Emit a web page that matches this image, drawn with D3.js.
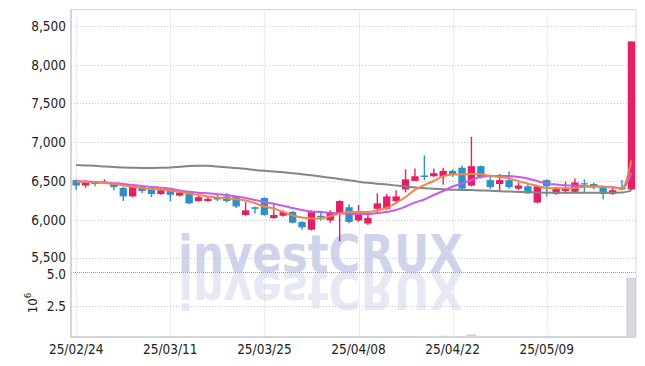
<!DOCTYPE html>
<html><head><meta charset="utf-8">
<script src="https://cdn.jsdelivr.net/npm/d3@7"></script>
<style>
html,body{margin:0;padding:0;background:#fff;}
text{font-family:"Liberation Sans Narrow","DejaVu Sans Condensed","Roboto",sans-serif;}
</style></head>
<body><svg id="c" width="645" height="366"></svg>
<script>
// ---- data ----
const dates = ["25/02/24","25/02/25","25/02/26","25/02/27","25/02/28","25/03/04","25/03/05","25/03/06","25/03/07","25/03/10",
"25/03/11","25/03/12","25/03/13","25/03/14","25/03/17","25/03/18","25/03/19","25/03/20","25/03/21","25/03/24",
"25/03/25","25/03/26","25/03/27","25/03/28","25/03/31","25/04/01","25/04/02","25/04/03","25/04/04","25/04/07",
"25/04/08","25/04/09","25/04/10","25/04/11","25/04/14","25/04/15","25/04/16","25/04/17","25/04/18","25/04/21",
"25/04/22","25/04/23","25/04/24","25/04/25","25/04/28","25/04/29","25/04/30","25/05/02","25/05/07","25/05/08",
"25/05/09","25/05/12","25/05/13","25/05/14","25/05/15","25/05/16","25/05/19","25/05/20","25/05/21","25/05/22"];
const openP  = [6510,6440,6480,6470,6470,6410,6300,6420,6400,6330,6390,6310,6350,6240,6240,6290,6300,6290,6060,6160,
6280,6020,6050,6100,5970,5870,6050,5990,6080,6160,5990,5950,6140,6140,6240,6390,6500,6570,6560,6560,
6630,6670,6440,6690,6510,6460,6510,6400,6430,6220,6510,6330,6370,6360,6470,6460,6420,6330,6410,6390];
const highP  = [6520,6510,6490,6520,6480,6420,6460,6430,6410,6420,6400,6390,6360,6320,6300,6320,6340,6300,6230,6170,
6290,6200,6120,6110,5980,6120,6100,6120,6250,6200,6190,6100,6340,6330,6380,6650,6660,6830,6660,6670,
6650,6700,7070,6700,6580,6590,6620,6480,6460,6440,6520,6420,6490,6530,6520,6480,6430,6410,6510,8300];
const lowP   = [6380,6410,6430,6460,6380,6240,6290,6340,6290,6320,6240,6300,6200,6230,6230,6240,6220,6150,6050,6080,
6050,6010,6040,5950,5870,5860,5990,5960,5720,5950,5970,5930,6090,6120,6210,6350,6500,6510,6550,6450,
6550,6380,6430,6530,6400,6360,6400,6380,6330,6210,6300,6320,6330,6350,6340,6390,6260,6320,6380,6380];
const closeP = [6440,6490,6460,6490,6420,6300,6430,6370,6330,6380,6320,6350,6210,6290,6270,6260,6240,6170,6120,6140,
6060,6060,6100,5960,5900,6110,6030,6090,6240,5970,6080,6020,6210,6300,6300,6520,6560,6550,6600,6630,
6590,6400,6690,6550,6420,6510,6420,6440,6340,6430,6430,6410,6410,6480,6460,6430,6330,6380,6390,8300];
const volume = [0.09,0.07,0.05,0.06,0.08,0.12,0.10,0.06,0.07,0.05,0.08,0.06,0.10,0.06,0.05,0.05,0.06,0.08,0.07,0.05,
0.10,0.06,0.05,0.07,0.08,0.12,0.05,0.06,0.13,0.09,0.06,0.05,0.08,0.10,0.07,0.14,0.09,0.15,0.08,0.22,
0.07,0.12,0.31,0.10,0.09,0.07,0.06,0.05,0.07,0.09,0.08,0.06,0.05,0.07,0.05,0.04,0.06,0.05,0.04,4.55];
const ma5  = [6490,6486,6480,6473,6460,6441,6425,6408,6395,6391,6376,6359,6337,6318,6298,6286,6275,6262,6247,6211,
6169,6143,6098,6053,6027,6014,6014,6047,6079,6098,6098,6098,6118,6150,6215,6292,6383,6447,6499,6563,
6583,6585,6590,6585,6565,6550,6535,6495,6465,6434,6408,6404,6404,6408,6425,6428,6425,6415,6404,6763];
const ma20 = [6496,6492,6486,6479,6470,6460,6447,6434,6421,6412,6399,6376,6359,6346,6340,6328,6318,6298,6279,6253,
6228,6204,6180,6150,6124,6105,6098,6089,6081,6075,6072,6072,6085,6098,6124,6169,6221,6260,6318,6370,
6428,6466,6512,6550,6563,6563,6563,6550,6531,6499,6466,6453,6443,6438,6434,6428,6425,6417,6402,6602];
const ma60 = [6704,6699,6694,6686,6679,6673,6669,6667,6667,6669,6673,6682,6692,6696,6694,6686,6675,6667,6656,6641,
6630,6621,6611,6599,6585,6572,6557,6540,6525,6508,6490,6475,6464,6454,6441,6428,6415,6406,6398,6392,
6386,6384,6381,6377,6372,6367,6362,6358,6354,6350,6348,6348,6348,6348,6348,6348,6348,6348,6350,6374];
const priceTicks = [5500,6000,6500,7000,7500,8000,8500];
const volTicks = [2.5,5.0];
const dateTicks = ["25/02/24","25/03/11","25/03/25","25/04/08","25/04/22","25/05/09"];

// ---- layout ----
const L=71, R=636, T=9.5, MID=272, B=337;
const svg = d3.select("#c");
const x = d3.scalePoint().domain(dates).range([76.2, 631.4]);
const step = x.step();
const y = d3.scaleLinear().domain([5324, 8706]).range([MID, 10]);
const yv = d3.scaleLinear().domain([0, 5]).range([339.1, 272.3]);

// watermark (text + mirrored copy)
const wm = svg.append("g");
wm.append("text").attr("id","wmText").text("investCRUX").attr("x",178).attr("y",MID)
  .attr("textLength",285).attr("lengthAdjust","spacingAndGlyphs")
  .style("font-family","'DejaVu Sans'").style("font-weight","bold").style("font-size","51px")
  .attr("fill","#cfd4eb");
wm.append("use").attr("href","#wmText")
  .attr("transform",`translate(0,${2*MID}) scale(1,-1)`).attr("opacity",0.5);

// grid
const grid = svg.append("g").attr("stroke","#c5c8dc").attr("stroke-dasharray","1,2").attr("stroke-width",1);
priceTicks.forEach(t=>grid.append("line").attr("x1",L).attr("x2",R).attr("y1",Math.round(y(t))+0.5).attr("y2",Math.round(y(t))+0.5));
grid.append("line").attr("x1",L).attr("x2",R).attr("y1",Math.round(yv(2.5))+0.5).attr("y2",Math.round(yv(2.5))+0.5);
dateTicks.forEach(d=>grid.append("line").attr("x1",Math.round(x(d))+0.5).attr("x2",Math.round(x(d))+0.5).attr("y1",T).attr("y2",B));
svg.append("line").attr("x1",L).attr("x2",R).attr("y1",MID+0.5).attr("y2",MID+0.5)
  .attr("stroke","#9a9aa8").attr("stroke-dasharray","1,1");

// frame
svg.append("path").attr("d",`M${L},${T}H${R}V${B}`).attr("fill","none").attr("stroke","#d6d6dc").attr("stroke-width",1);
svg.append("path").attr("d",`M${L},${T}V${B}H${R}`).attr("fill","none").attr("stroke","#c8c8cc").attr("stroke-width",1.5);

// volume
svg.append("clipPath").attr("id","vc").append("rect").attr("x",L).attr("y",MID).attr("width",R-L).attr("height",B-MID-0.8);
svg.append("g").attr("clip-path","url(#vc)").selectAll("rect").data(volume).join("rect")
  .attr("x",(v,i)=>x(dates[i])-step*0.47).attr("width",step*0.94)
  .attr("y",v=>yv(v)).attr("height",v=>yv(0)-yv(v))
  .attr("fill","#d8d8de").attr("stroke","#c4c4cc").attr("stroke-width",0.8);

// candles
const up="#e61e64", dn="#2b92c8";
const cg = svg.append("g");
dates.forEach((d,i)=>{
  const c = closeP[i]>=openP[i] ? up : dn;
  const cx = x(d);
  cg.append("line").attr("x1",cx).attr("x2",cx).attr("y1",y(highP[i])).attr("y2",y(lowP[i]))
    .attr("stroke",c).attr("stroke-width",1.4);
  const y0 = y(Math.max(openP[i],closeP[i])), y1 = y(Math.min(openP[i],closeP[i]));
  cg.append("rect").attr("x",cx-step*0.39).attr("width",step*0.78)
    .attr("y",y0).attr("height",Math.max(1.2,y1-y0)).attr("fill",c);
});

// moving averages
const line = arr => d3.line().x((v,i)=>x(dates[i])).y(v=>y(v)).curve(d3.curveMonotoneX)(arr);
svg.append("path").attr("d",line(ma60)).attr("fill","none").attr("stroke","#858585").attr("stroke-width",2);
svg.append("path").attr("d",line(ma20)).attr("fill","none").attr("stroke","#c95ae8").attr("stroke-width",2);
svg.append("path").attr("d",line(ma5)).attr("fill","none").attr("stroke","#ee8748").attr("stroke-width",2);

// axis labels
const lab = svg.append("g").attr("fill","#222").style("font-size","13.5px");
priceTicks.forEach(t=>lab.append("text").attr("x",66).attr("y",y(t) - (t===5500?1:0)).attr("text-anchor","end")
  .attr("dominant-baseline","central").text(d3.format(",")(t)));
volTicks.forEach(t=>lab.append("text").attr("x",66).attr("y",yv(t) + (t===5?2:0)).attr("text-anchor","end")
  .attr("dominant-baseline","central").text(d3.format(".1f")(t)));
dateTicks.forEach(d=>lab.append("text").attr("x",x(d)).attr("y",349).attr("text-anchor","middle")
  .attr("dominant-baseline","central").text(d));
const e = lab.append("text").attr("transform","translate(37,303) rotate(-90)").attr("text-anchor","middle").style("font-size","13px");
e.append("tspan").text("10");
e.append("tspan").attr("dy",-6).style("font-size","9.5px").text("6");
</script></body></html>
